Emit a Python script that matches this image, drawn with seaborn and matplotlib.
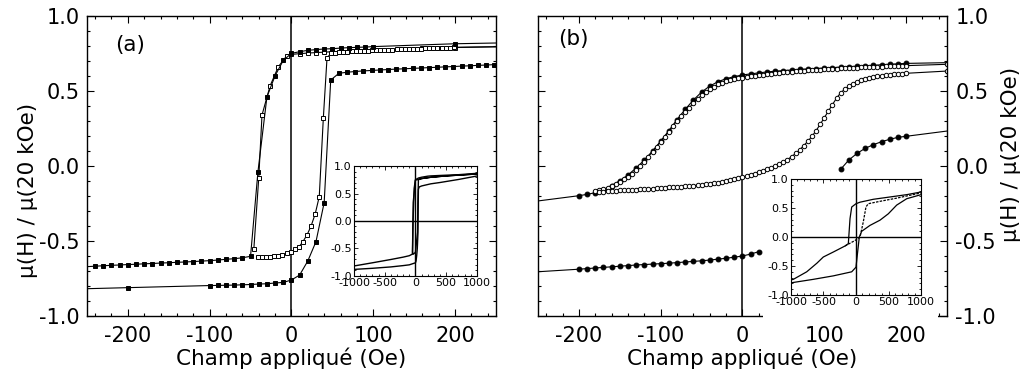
import numpy as np
import seaborn as sns
import matplotlib.pyplot as plt
from matplotlib.ticker import MultipleLocator
from matplotlib.patches import Rectangle

# ---------------- data (a) : squares ----------------
# filled squares, descending branch (from +250 Oe)
a_down_x = [250, 200, 100, 90, 80, 70, 60, 50, 40, 30, 20, 10, 0, -10, -20, -30, -41, -50,
            -60, -70, -80, -90, -100, -110, -120, -130, -140, -150, -160, -170, -180, -190,
            -200, -210, -220, -230, -240, -250]
a_down_y = [0.820, 0.815, 0.796, 0.793, 0.791, 0.789, 0.786, 0.782, 0.780, 0.776, 0.771, 0.762,
            0.751, 0.704, 0.602, 0.460, -0.040, -0.602,
            -0.612, -0.618, -0.622, -0.627, -0.631, -0.634, -0.637, -0.640, -0.642, -0.645,
            -0.647, -0.650, -0.652, -0.655, -0.657, -0.660, -0.662, -0.665, -0.668, -0.671]

# filled squares, ascending branch (from -250 Oe)
a_up_x = [-250, -200, -100, -90, -80, -70, -60, -50, -40, -30, -20, -10, 0, 10, 20, 30, 40,
          48, 58, 68, 78, 88, 98, 108, 118, 128, 138, 148, 158, 168, 178, 188, 198, 208, 218,
          228, 238, 248]
a_up_y = [-0.818, -0.811, -0.797, -0.796, -0.795, -0.794, -0.792, -0.790, -0.787, -0.785,
          -0.780, -0.776, -0.760, -0.727, -0.633, -0.504, -0.244,
          0.573, 0.618, 0.625, 0.630, 0.634, 0.637, 0.640, 0.643, 0.646, 0.648, 0.651, 0.653,
          0.656, 0.658, 0.661, 0.663, 0.666, 0.668, 0.671, 0.673, 0.676]

# open squares, descending branch
a_open_down_x = [250, 200, 190, 180, 170, 160, 150, 140, 130, 120, 110, 100, 90, 80, 70, 60,
                 50, 40, 30, 20, 10, 0, -6, -16, -26, -36, -40, -46]
a_open_down_y = [0.795, 0.790, 0.788, 0.787, 0.785, 0.784, 0.782, 0.780, 0.778, 0.776, 0.774,
                 0.772, 0.770, 0.768, 0.766, 0.764, 0.762, 0.759, 0.756, 0.753, 0.749, 0.744,
                 0.733, 0.662, 0.536, 0.340, -0.082, -0.555]

# open squares, ascending branch
a_open_up_x = [-41, -36, -31, -26, -21, -16, -11, -6, 0, 4.5, 9, 14, 19, 24, 29, 34, 39, 43.5,
               48.5, 53.5, 58.5, 63.5, 68.5, 73.5, 78.5, 83.5, 88.5, 93.5, 98.5, 103.5, 108.5,
               113.5, 118.5, 123.5, 128.5, 133.5, 138.5, 143.5, 148.5, 153.5, 158.5, 163.5,
               168.5, 173.5, 178.5, 183.5, 188.5, 193.5, 198.5, 250]
a_open_up_y = [-0.607, -0.607, -0.605, -0.604, -0.601, -0.598, -0.593, -0.582, -0.571, -0.555,
               -0.541, -0.504, -0.460, -0.400, -0.320, -0.204, 0.322, 0.722,
               0.751, 0.756, 0.759, 0.761, 0.763, 0.765, 0.766, 0.768, 0.769, 0.770, 0.771,
               0.772, 0.773, 0.774, 0.775, 0.776, 0.777, 0.778, 0.779, 0.780, 0.781, 0.782,
               0.783, 0.784, 0.785, 0.786, 0.787, 0.788, 0.789, 0.790, 0.791, 0.795]

# inset (a), wide field range
ins_a1_x = [1000, 700, 400, 250, 200, 100, 50, 0, -20, -40, -48, -50, -100, -200, -400, -700, -1000]
ins_a1_y = [0.867, 0.842, 0.828, 0.820, 0.815, 0.796, 0.782, 0.751, 0.602, -0.040, -0.500,
            -0.602, -0.631, -0.657, -0.700, -0.760, -0.818]
ins_a2_x = [-1000, -700, -400, -200, -100, 0, 10, 20, 30, 40, 48, 60, 100, 250, 400, 700, 1000]
ins_a2_y = [-0.880, -0.860, -0.835, -0.811, -0.797, -0.760, -0.727, -0.633, -0.504, -0.244,
            0.573, 0.618, 0.637, 0.676, 0.700, 0.755, 0.818]
ins_a3_x = [1000, 500, 250, 100, 0, -36, -46, -41, 0, 34, 39, 48.5, 100, 250, 500, 1000]
ins_a3_y = [0.855, 0.820, 0.795, 0.772, 0.744, 0.340, -0.555, -0.607, -0.571, -0.204, 0.322,
            0.751, 0.771, 0.795, 0.820, 0.855]

# ---------------- data (b) : circles ----------------
b_down_x = [250, 200, 190, 180, 170, 160, 150, 140, 130, 120, 110, 100, 90, 80, 70, 60, 50, 40,
            30, 20, 10, 0, -10, -20, -30, -40, -50, -60, -70, -80, -90, -100, -110, -120, -130,
            -140, -150, -160, -170, -180, -190, -200, -250]
b_down_y = [0.689, 0.684, 0.681, 0.678, 0.675, 0.671, 0.668, 0.665, 0.662, 0.659, 0.656, 0.653,
            0.650, 0.647, 0.644, 0.640, 0.636, 0.632, 0.627, 0.621, 0.614, 0.607, 0.596, 0.582,
            0.562, 0.533, 0.493, 0.440, 0.378, 0.310, 0.236, 0.166, 0.100, 0.040, -0.013,
            -0.060, -0.098, -0.130, -0.158, -0.178, -0.189, -0.198, -0.233]

b_up_low_x = [-250, -200, -190, -180, -170, -160, -150, -140, -130, -120, -110, -100, -90, -80,
              -70, -60, -50, -40, -30, -20, -10, 0, 10, 20]
b_up_low_y = [-0.705, -0.688, -0.684, -0.680, -0.676, -0.672, -0.668, -0.664, -0.660, -0.657,
              -0.654, -0.651, -0.648, -0.644, -0.640, -0.636, -0.632, -0.627, -0.621, -0.615,
              -0.608, -0.600, -0.587, -0.571]
b_up_high_x = [120, 130, 140, 150, 160, 170, 180, 190, 200, 250]
b_up_high_y = [-0.022, 0.040, 0.084, 0.118, 0.142, 0.162, 0.178, 0.191, 0.198, 0.233]

b_open_down_x = [250, 200, 195, 190, 185, 180, 175, 170, 165, 160, 155, 150, 145, 140, 135, 130,
                 125, 120, 115, 110, 105, 100, 95, 90, 85, 80, 75, 70, 65, 60, 55, 50, 45, 40,
                 35, 30, 25, 20, 15, 10, 5, 0, -5, -10, -15, -20, -25, -30, -35, -40, -45, -50,
                 -55, -60, -65, -70, -75, -80, -85, -90, -95, -100, -105, -110, -115, -120,
                 -125, -130, -135, -140, -145, -150, -155, -160, -165, -170, -175, -180]
b_open_down_y = [0.678, 0.669, 0.668, 0.667, 0.666, 0.665, 0.664, 0.663, 0.662, 0.661, 0.660,
                 0.659, 0.657, 0.656, 0.655, 0.654, 0.653, 0.651, 0.650, 0.648, 0.647, 0.645,
                 0.643, 0.641, 0.639, 0.637, 0.635, 0.633, 0.631, 0.629, 0.627, 0.624, 0.622,
                 0.619, 0.616, 0.613, 0.609, 0.605, 0.601, 0.597, 0.594, 0.590, 0.585, 0.580,
                 0.574, 0.566, 0.556, 0.544, 0.529, 0.511, 0.493, 0.472, 0.446, 0.418, 0.390,
                 0.362, 0.332, 0.302, 0.266, 0.229, 0.196, 0.162, 0.129, 0.096, 0.062, 0.030,
                 0.001, -0.027, -0.050, -0.071, -0.088, -0.104, -0.119, -0.133, -0.145, -0.155,
                 -0.161, -0.166]

b_open_up_x = [-175, -170, -165, -160, -155, -150, -145, -140, -135, -130, -125, -120, -115,
               -110, -105, -100, -95, -90, -85, -80, -75, -70, -65, -60, -55, -50, -45, -40,
               -35, -30, -25, -20, -15, -10, -5, 0, 5, 10, 15, 20, 25, 30, 35, 40, 45, 50, 55,
               60, 65, 70, 75, 80, 85, 90, 95, 100, 105, 110, 115, 120, 125, 130, 135, 140, 145,
               150, 155, 160, 165, 170, 175, 180, 185, 190, 195, 200, 250]
b_open_up_y = [-0.172, -0.170, -0.168, -0.167, -0.165, -0.163, -0.162, -0.160, -0.158, -0.157,
               -0.155, -0.153, -0.152, -0.150, -0.148, -0.147, -0.145, -0.143, -0.141, -0.139,
               -0.137, -0.135, -0.133, -0.130, -0.128, -0.125, -0.122, -0.118, -0.114, -0.110,
               -0.106, -0.100, -0.094, -0.087, -0.080, -0.073, -0.066, -0.058, -0.050, -0.042,
               -0.033, -0.023, -0.013, -0.001, 0.012, 0.026, 0.043, 0.062, 0.084, 0.108, 0.136,
               0.166, 0.198, 0.236, 0.278, 0.322, 0.366, 0.410, 0.452, 0.488, 0.512, 0.532,
               0.549, 0.563, 0.573, 0.581, 0.588, 0.593, 0.597, 0.601, 0.605, 0.608, 0.611,
               0.614, 0.616, 0.618, 0.633]

# inset (b)
ins_bA_x = [1000, 780, 523, 266, 62, 0, -66, -92, -118, -169, -349, -503, -600, -758, -964, -1000]
ins_bA_y = [0.776, 0.730, 0.690, 0.650, 0.600, 0.574, 0.517, 0.316, -0.115, -0.155, -0.259,
            -0.345, -0.450, -0.600, -0.730, -0.740]
ins_bB_x = [-1000, -657, -349, -66, 0, 25, 51, 87, 215, 369, 497, 626, 780, 1000]
ins_bB_y = [-0.790, -0.730, -0.670, -0.600, -0.520, -0.260, 0.000, 0.098, 0.200, 0.290, 0.400,
            0.550, 0.660, 0.730]
ins_bC_x = [-169, -15, 62, 112, 154, 190, 369, 626, 1000]
ins_bC_y = [-0.155, -0.060, 0.000, 0.260, 0.520, 0.574, 0.615, 0.670, 0.760]

# ---------------- style ----------------
sns.set_theme(style="ticks")
plt.rcParams['font.family'] = ['DejaVu Sans']
plt.rcParams['axes.unicode_minus'] = False
plt.rcParams['text.color'] = 'black'
plt.rcParams['axes.labelcolor'] = 'black'

ylab = "\u03bc(H) / \u03bc(20 kOe)"
xlab = "Champ appliqu\u00e9 (Oe)"


def draw(ax, x, y, marker=None, filled=True, ms=3.2, every=None, ls='-', lw=0.8):
    kw = dict(color='black', lw=lw, linestyle=ls)
    if marker is not None:
        kw.update(marker=marker, markersize=ms, markeredgewidth=0.7,
                  markeredgecolor='black',
                  markerfacecolor='black' if filled else 'white')
        if every is not None:
            kw['markevery'] = every
    sns.lineplot(x=np.array(x, float), y=np.array(y, float), sort=False, estimator=None,
                 ax=ax, legend=False, **kw)


def style_main(ax, right=False, label_y=0.5):
    ax.set_xlim(-250, 250)
    ax.set_ylim(-1.0, 1.0)
    ax.axvline(0, color='black', lw=1.1, zorder=1)
    ax.xaxis.set_major_locator(MultipleLocator(100))
    ax.xaxis.set_minor_locator(MultipleLocator(20))
    ax.yaxis.set_major_locator(MultipleLocator(0.5))
    ax.yaxis.set_minor_locator(MultipleLocator(0.1))
    ax.tick_params(which='both', direction='in', top=True, right=True, left=True,
                   bottom=True, width=0.8, colors='black')
    ax.tick_params(which='major', length=5, labelsize=15)
    ax.tick_params(which='minor', length=2.5)
    ax.tick_params(axis='x', pad=7)
    for s in ax.spines.values():
        s.set_linewidth(1.0)
        s.set_color('black')
    ax.set_xlabel(xlab, fontsize=15.5, color='black')
    ax.set_ylabel(ylab, fontsize=15.5, color='black')
    ax.xaxis.set_label_coords(0.5, -0.105)
    if right:
        ax.yaxis.tick_right()
        ax.tick_params(which='both', left=True, right=True, labelleft=False, labelright=True)
        ax.tick_params(axis='y', pad=6)
        ax.yaxis.set_label_position('right')
        ax.yaxis.set_label_coords(1.132, label_y)
    else:
        ax.tick_params(axis='y', pad=5)
        ax.yaxis.set_label_coords(-0.12, label_y)


def style_inset(ax):
    ax.set_xlim(-1000, 1000)
    ax.set_ylim(-1.0, 1.0)
    ax.axvline(0, color='black', lw=1.0)
    ax.axhline(0, color='black', lw=1.0)
    ax.xaxis.set_major_locator(MultipleLocator(500))
    ax.xaxis.set_minor_locator(MultipleLocator(100))
    ax.yaxis.set_major_locator(MultipleLocator(0.5))
    ax.yaxis.set_minor_locator(MultipleLocator(0.1))
    ax.tick_params(which='both', direction='in', top=True, right=True, width=0.6,
                   labelsize=8, pad=1.5, colors='black')
    ax.tick_params(which='major', length=3)
    ax.tick_params(which='minor', length=1.5)
    for s in ax.spines.values():
        s.set_linewidth(0.8)
        s.set_color('black')
    ax.set_xlabel('')
    ax.set_ylabel('')


fig = plt.figure(figsize=(10.23, 3.81), dpi=100)
ax_a = fig.add_axes([0.0850, 0.1706, 0.3998, 0.7874])
ax_b = fig.add_axes([0.5259, 0.1706, 0.3998, 0.7874])

# panel (a)
draw(ax_a, a_open_down_x, a_open_down_y, 's', False, ms=3.0, every=list(range(1, len(a_open_down_x))))
draw(ax_a, a_open_up_x, a_open_up_y, 's', False, ms=3.0, every=list(range(0, len(a_open_up_x) - 1)))
draw(ax_a, a_down_x, a_down_y, 's', True, ms=3.4, every=list(range(1, len(a_down_x) - 1)))
draw(ax_a, a_up_x, a_up_y, 's', True, ms=3.4, every=list(range(1, len(a_up_x))))
style_main(ax_a, label_y=0.42)
ax_a.text(0.068, 0.905, '(a)', transform=ax_a.transAxes, fontsize=15.5, va='center',
          color='black')

# panel (b)
draw(ax_b, b_down_x, b_down_y, 'o', True, ms=3.5, every=list(range(1, len(b_down_x) - 1)))
draw(ax_b, b_up_low_x, b_up_low_y, 'o', True, ms=3.5, every=list(range(1, len(b_up_low_x))))
draw(ax_b, b_up_high_x, b_up_high_y, 'o', True, ms=3.5, every=list(range(0, len(b_up_high_x) - 1)))
draw(ax_b, b_open_down_x, b_open_down_y, 'o', False, ms=3.2)
draw(ax_b, b_open_up_x, b_open_up_y, 'o', False, ms=3.2)
style_main(ax_b, right=True, label_y=0.54)
ax_b.text(0.049, 0.923, '(b)', transform=ax_b.transAxes, fontsize=15.5, va='center',
          color='black')

# white box behind inset (b)
fig.add_artist(Rectangle((763 / 1023, 1 - 319 / 381), 175 / 1023, 145 / 381,
                         transform=fig.transFigure, facecolor='white', edgecolor='none',
                         zorder=1))

# insets
ins_a = fig.add_axes([0.3460, 0.2756, 0.1202, 0.2887])
ins_a.set_zorder(2)
draw(ins_a, ins_a1_x, ins_a1_y, lw=1.0)
draw(ins_a, ins_a2_x, ins_a2_y, lw=1.0)
draw(ins_a, ins_a3_x, ins_a3_y, lw=1.0)
style_inset(ins_a)

ins_b = fig.add_axes([0.7732, 0.2257, 0.1271, 0.3045])
ins_b.set_zorder(2)
draw(ins_b, ins_bA_x, ins_bA_y, lw=0.9)
draw(ins_b, ins_bB_x, ins_bB_y, lw=0.9)
draw(ins_b, ins_bC_x, ins_bC_y, ls=(0, (2, 1)), lw=0.9)
style_inset(ins_b)

fig.savefig('out.png', dpi=100)
